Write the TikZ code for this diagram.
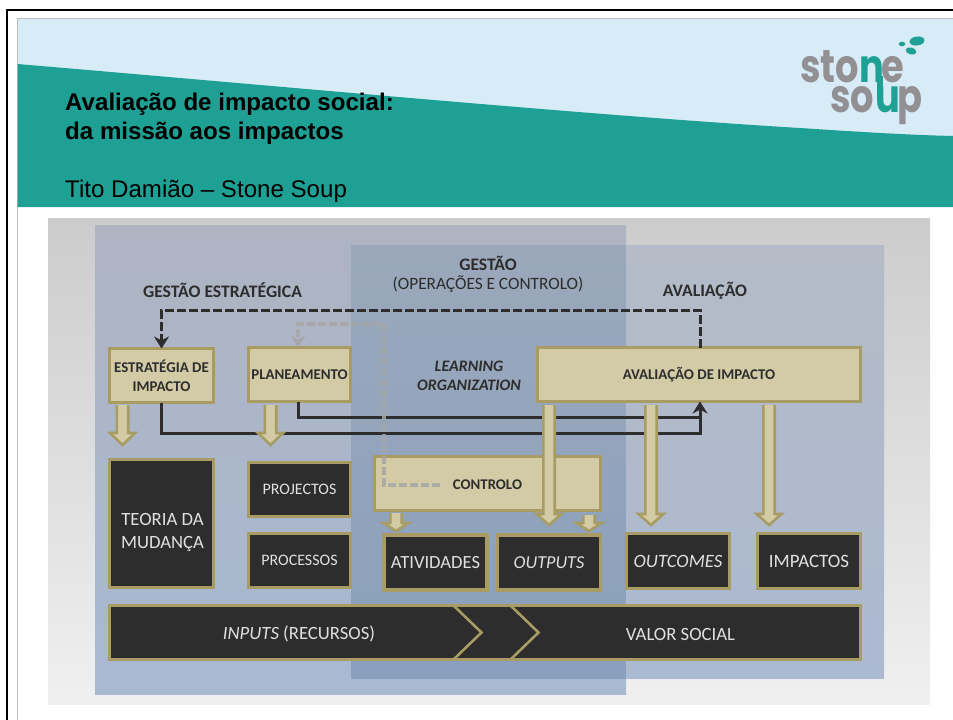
\documentclass[tikz,border=0pt]{standalone}
\usepackage{fontspec}
\setmainfont{Liberation Sans}
\newfontfamily\diag{Carlito}
\newfontfamily\logofont{Poppins}
\usetikzlibrary{calc,arrows.meta}
\definecolor{teal1}{HTML}{1FA094}
\definecolor{sky1}{HTML}{D8ECF8}
\definecolor{tan1}{HTML}{A89B63}
\definecolor{sand1}{HTML}{D2CBA6}
\definecolor{ink1}{HTML}{2D2D2D}
\definecolor{logogray}{HTML}{939094}
\definecolor{dashgray}{HTML}{A6A6A6}
\definecolor{lt}{HTML}{AEB4C2}\definecolor{lb}{HTML}{A9B9D2}
\definecolor{ot}{HTML}{9BA8BB}\definecolor{ob}{HTML}{8AA0BE}
\definecolor{rt}{HTML}{B5BBC7}\definecolor{rb}{HTML}{ABB9D1}
\newcommand\lowered[1]{\raisebox{-1.5pt}{#1}}
\tikzset{
  lightbox/.style={draw=tan1,fill=sand1,line width=3.5pt,outer sep=0pt,inner sep=0pt,align=center,text=ink1,font=\diag\bfseries\fontsize{14.9}{19}\selectfont},
  darkbox/.style={draw=tan1,fill=ink1,line width=3.5pt,outer sep=0pt,inner sep=0pt,align=center,text=white!88!black,font=\diag\fontsize{18.7}{23}\selectfont},
  darktext/.style={inner sep=0pt,align=center,text=white!88!black,font=\diag\fontsize{18.7}{23}\selectfont},
  heading/.style={text=ink1,inner sep=0pt,align=center,font=\diag\bfseries\fontsize{17.6}{20}\selectfont},
  titletext/.style={anchor=base west,inner sep=0pt,text=black},
  logoletter/.style={anchor=base west,inner sep=0pt,xscale=.8,text height=14pt,text depth=0pt,font=\logofont\bfseries\fontsize{46}{46}\selectfont},
  flow/.style={draw=ink1,line width=3pt},
  flowtip/.style={-{Stealth[length=12pt,width=15pt]}},
  grayflow/.style={draw=dashgray,opacity=.85,line width=3.5pt,dash pattern=on 8pt off 3pt,-{Stealth[length=12pt,width=15pt]}},
  blockarrow/.style={draw=tan1,fill=sand1,line width=2.6pt,line join=miter},
}
% start, tip, half head width, head length
\newcommand\bigarrow[4]{\draw[blockarrow] let \p1=(#1),\p2=(#2) in
  (\x1-5.7pt,\y1) -- (\x1-5.7pt,\y2+#4) -- (\x1-#3,\y2+#4) -- (\x1,\y2) -- (\x1+#3,\y2+#4) -- (\x1+5.7pt,\y2+#4) -- (\x1+5.7pt,\y1);}
\begin{document}
\begin{tikzpicture}[x=1pt,y=-1pt]
\useasboundingbox (0,0) rectangle (953,720);
\fill[white] (0,0) rectangle (953,720);
% slide frame
\draw[black,line width=2.5pt] (7,725) -- (7,10) -- (958,10);
\draw[black!25,line width=1pt] (17,725) -- (17,18) -- (958,18);
% banner
\fill[sky1] (17.5,18.5) rectangle (953,207);
\fill[teal1] (17.5,64) .. controls (300,88) and (600,116) .. (800,128) .. controls (860,132) and (910,135) .. (953,136) -- (953,207) -- (17.5,207) -- cycle;
\node[titletext,font=\bfseries\fontsize{24.1}{29}\selectfont] (t1) at (65,110) {Avaliação de impacto social:};
\node[titletext,font=\bfseries\fontsize{24.1}{29}\selectfont] (t2) at (65,139) {da missão aos impactos};
\node[titletext,font=\fontsize{24.1}{29}\selectfont] (t3) at (65,197) {Tito Damião – Stone Soup};
% logo
\node[logoletter,text=logogray] (lsto) at (800,82) {sto};
\node[logoletter,text=teal1] (ln) at (859,82) {n};
\node[logoletter,text=logogray] (le) at (881,82) {e};
\node[logoletter,text=logogray] (lso) at (830,112) {so};
\node[logoletter,text=teal1] (lu) at (875,112) {u};
\node[logoletter,text=logogray] (lp) at (897,112) {p};
\draw[teal1,line width=6pt] (880,76) -- (880,98);
\fill[teal1,rotate around={8:(917,41)}] (917,41) ellipse (7.5 and 4.5);
\fill[teal1,rotate around={-15:(911,51)}] (911,51) ellipse (5.5 and 3.5);
\fill[teal1] (902,44) ellipse (3.3 and 2.3);
% picture background
\shade[top color=black!20,bottom color=black!6] (48,218) rectangle (930,704);
\shade[top color=lt,bottom color=lb] (95,225) rectangle (626,694);
\shade[top color=ot,bottom color=ob] (351,245) rectangle (626,678);
\shade[top color=rt,bottom color=rb] (626,245) rectangle (884,678);
% headings
\node[heading] (hge) at (222.5,290) {GESTÃO ESTRATÉGICA};
\node[heading] (hg) at (488,263) {GESTÃO};
\node[heading,font=\diag\fontsize{17.3}{20}\selectfont] (hop) at (488,284) {(OPERAÇÕES E CONTROLO)};
\node[heading] (hav) at (705,291) {AVALIAÇÃO};
\node[heading,font=\diag\bfseries\itshape\fontsize{16}{19}\selectfont] (hlo) at (469,375.5) {LEARNING\\ORGANIZATION};
% light boxes
\node[lightbox,minimum width=104pt,minimum height=54pt] (est) at (161.5,375.5) {ESTRATÉGIA DE\\IMPACTO};
\node[lightbox,minimum width=102pt,minimum height=54pt] (pla) at (299.5,374.5) {\lowered{PLANEAMENTO}};
\node[lightbox,minimum width=323pt,minimum height=54pt] (ava) at (699,374.5) {\lowered{AVALIAÇÃO DE IMPACTO}};
% dark boxes
\node[darkbox,minimum width=104pt,minimum height=128pt] (teo) at (161.5,523.5) {};
\node[darktext] (teol) at (162.5,532.5) {TEORIA DA\\MUDANÇA};
\node[darkbox,minimum width=102pt,minimum height=54pt,font=\diag\fontsize{16}{18}\selectfont] (pro) at (299.5,489.5) {\lowered{PROJECTOS}};
\node[darkbox,minimum width=102pt,minimum height=54pt,font=\diag\fontsize{16}{18}\selectfont] (prc) at (299.5,560.5) {\lowered{PROCESSOS}};
\node[darkbox,minimum width=103pt,minimum height=55pt,font=\diag\fontsize{18.6}{22}\selectfont] (ati) at (435.5,562.5) {\lowered{ATIVIDADES}};
\node[darkbox,minimum width=103pt,minimum height=55pt,font=\diag\itshape\fontsize{18.2}{22}\selectfont] (out) at (549,562.5) {\lowered{OUTPUTS}};
\node[darkbox,minimum width=103pt,minimum height=55pt,font=\diag\itshape\fontsize{18.8}{22}\selectfont] (occ) at (678,561) {\lowered{OUTCOMES}};
\node[darkbox,minimum width=103pt,minimum height=55pt,font=\diag\fontsize{18.9}{22}\selectfont] (imp) at (809,561) {\lowered{IMPACTOS}};
% value bar
\node[darkbox,minimum width=751pt,minimum height=54pt] (bar) at (485,632.5) {};
\draw[tan1,line width=2.6pt] ($(bar.north west)+(344,0)$) -- ($(bar.west)+(372,0)$) -- ($(bar.south west)+(344,0)$);
\draw[tan1,line width=2.6pt] ($(bar.north west)+(401,0)$) -- ($(bar.west)+(429,0)$) -- ($(bar.south west)+(401,0)$);
\node[darktext] (inp) at (299,634) {\textit{INPUTS} (RECURSOS)};
\node[darktext] (val) at (680.5,634) {VALOR SOCIAL};
% black connectors
\coordinate (dashup) at (700,310);
\coordinate (dashdn) at (161.5,310);
\coordinate (joinA) at (161.5,433);
\coordinate (joinB) at (298,417);
\coordinate (joinC) at (700,433);
\coordinate (joinD) at (700,417);
\draw[flow] (pla.south -| joinB) -- (joinB) -- (joinD);
\draw[flow,flowtip] (est.south) -- (joinA) -- (joinC) -- (ava.south -| joinC);
\draw[flow,dash pattern=on 8.5pt off 3.5pt,flowtip] (ava.north -| dashup) -- (dashup) -- (dashdn) -- (est.north);
% control box and its feedback loop
\node[lightbox,minimum width=226pt,minimum height=54pt] (con) at (487.5,483.5) {};
\node[inner sep=0pt,text=ink1,font=\diag\bfseries\fontsize{14.8}{17}\selectfont] (conl) at (487.5,485) {CONTROLO};
\coordinate (grayA) at (440,485);
\coordinate (grayB) at (384,485);
\coordinate (grayC) at (384,324);
\coordinate (grayD) at (298,324);
\draw[grayflow] (grayA) -- (grayB) -- (grayC) -- (grayD) -- (pla.north -| grayD);
% block arrows
\coordinate (a1s) at (122.5,405); \coordinate (a1t) at (122.5,445);
\coordinate (a2s) at (270.5,405); \coordinate (a2t) at (270.5,445);
\coordinate (a3s) at (396,513); \coordinate (a3t) at (396,531);
\coordinate (a4s) at (589,515); \coordinate (a4t) at (589,531);
\coordinate (a5s) at (549,405); \coordinate (a5t) at (549,525);
\coordinate (a6s) at (651,405); \coordinate (a6t) at (651,525);
\coordinate (a7s) at (769,405); \coordinate (a7t) at (769,525);
\bigarrow{a1s}{a1t}{12.5pt}{12pt}
\bigarrow{a2s}{a2t}{12.5pt}{12pt}
\bigarrow{a3s}{a3t}{12.5pt}{8pt}
\bigarrow{a4s}{a4t}{12.5pt}{8pt}
\bigarrow{a5s}{a5t}{12.5pt}{11pt}
\bigarrow{a6s}{a6t}{12.5pt}{11pt}
\bigarrow{a7s}{a7t}{12.5pt}{11pt}
\end{tikzpicture}
\end{document}
